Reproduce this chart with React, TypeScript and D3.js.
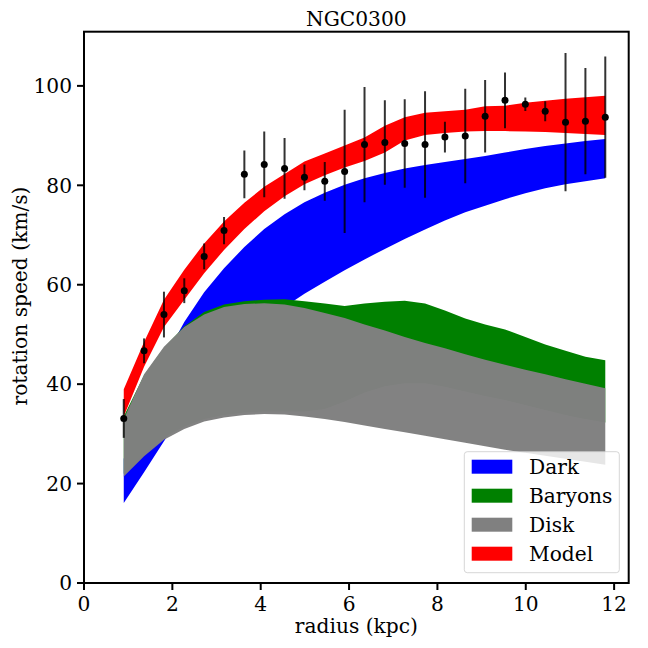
import React from 'react';
import * as d3 from 'd3';

const radius = [0.90, 1.36, 1.81, 2.27, 2.72, 3.17, 3.63, 4.08, 4.54, 4.99, 5.45, 5.90, 6.35, 6.81, 7.26, 7.72, 8.17, 8.63, 9.08, 9.53, 9.99, 10.44, 10.90, 11.35, 11.80];
const vObs = [33.1, 46.7, 54.0, 58.8, 65.7, 70.9, 82.2, 84.2, 83.4, 81.6, 80.8, 82.8, 88.2, 88.6, 88.4, 88.2, 89.7, 89.9, 93.9, 97.1, 96.3, 94.9, 92.7, 92.9, 93.7];
const vErr = [3.9, 2.5, 4.6, 2.5, 2.6, 2.75, 4.8, 6.6, 6.1, 2.6, 3.9, 12.4, 11.6, 8.5, 8.9, 10.7, 3.1, 9.5, 7.3, 5.6, 1.35, 2.0, 13.9, 10.7, 12.2];

const darkLo = [16.1, 22.3, 28.5, 34.5, 40.0, 45.0, 49.0, 52.5, 55.5, 58.2, 60.6, 62.9, 65.1, 67.2, 69.2, 71.1, 72.9, 74.6, 75.9, 77.2, 78.4, 79.4, 80.2, 80.8, 81.4];
const darkHi = [25.0, 36.0, 45.0, 52.5, 58.5, 63.3, 67.6, 71.2, 74.2, 76.6, 78.5, 80.1, 81.4, 82.5, 83.4, 84.1, 84.7, 85.3, 85.9, 86.6, 87.3, 87.9, 88.4, 88.9, 89.3];
const baryonsLo = [22.0, 26.0, 29.3, 31.5, 33.0, 33.8, 34.3, 34.5, 34.5, 34.5, 35.0, 36.5, 38.3, 39.6, 40.2, 40.2, 39.5, 38.5, 37.6, 36.8, 35.8, 34.8, 33.8, 33.0, 32.3];
const baryonsHi = [33.5, 41.8, 47.3, 51.6, 54.5, 56.0, 56.7, 57.0, 57.1, 56.7, 56.2, 55.7, 56.2, 56.6, 56.8, 56.2, 54.8, 53.2, 52.0, 51.0, 49.5, 48.0, 46.7, 45.5, 44.8];
const diskLo = [21.4, 25.5, 28.8, 31.0, 32.5, 33.3, 33.8, 34.0, 33.9, 33.5, 33.0, 32.4, 31.7, 31.0, 30.3, 29.6, 28.9, 28.2, 27.5, 26.8, 26.2, 25.6, 25.0, 24.4, 23.8];
const diskHi = [33.0, 42.0, 47.5, 51.5, 54.0, 55.5, 56.1, 56.3, 56.0, 55.3, 54.3, 53.3, 52.0, 50.8, 49.5, 48.3, 47.2, 46.0, 44.9, 43.9, 42.9, 42.0, 41.0, 40.1, 39.2];
const modelLo = [33.5, 43.5, 51.5, 57.0, 62.3, 67.0, 71.2, 74.8, 77.8, 80.2, 82.0, 83.6, 84.9, 86.6, 89.0, 90.1, 90.5, 90.8, 90.9, 90.9, 90.8, 90.7, 90.5, 90.3, 90.1];
const modelHi = [39.0, 48.5, 57.0, 63.0, 68.3, 72.7, 76.5, 79.7, 82.3, 84.8, 86.4, 88.0, 89.6, 92.0, 93.7, 94.6, 94.9, 95.2, 95.9, 96.0, 96.6, 97.0, 97.4, 97.7, 98.0];

const xTicks = [0, 2, 4, 6, 8, 10, 12];
const yTicks = [0, 20, 40, 60, 80, 100];
const seriesNames = ['Dark', 'Baryons', 'Disk', 'Model'];

const FONT = '"DejaVu Serif", serif';
const FS = 20.2;

export default function App() {
  const W = 648, H = 648;
  const L = 84, R = 628.7, T = 31.7, B = 583;
  const x = d3.scaleLinear().domain([0, 12.33]).range([L, R]);
  const y = d3.scaleLinear().domain([0, 110.9]).range([B, T]);

  const band = (lo: number[], hi: number[]) =>
    d3.area<number>()
      .x((d) => x(d))
      .y0((_, i) => y(lo[i]))
      .y1((_, i) => y(hi[i]))(radius) as string;

  const bands = [
    { name: 'Dark', lo: darkLo, hi: darkHi, color: '#0000ff', op: 1 },
    { name: 'Baryons', lo: baryonsLo, hi: baryonsHi, color: '#008000', op: 1 },
    { name: 'Disk', lo: diskLo, hi: diskHi, color: '#808080', op: 0.985 },
    { name: 'Model', lo: modelLo, hi: modelHi, color: '#ff0000', op: 1 },
  ];
  const colorOf: Record<string, string> = { Dark: '#0000ff', Baryons: '#008000', Disk: '#808080', Model: '#ff0000' };

  const legX = 464.3, legY = 451.7, legW = 155, legH = 121;
  const rowY0 = 466.7, rowDy = 29;

  return (
    <svg width={W} height={H} style={{ position: 'absolute', left: 0, top: 0, background: '#fff' }} fontFamily={FONT}>
      <rect x={0} y={0} width={W} height={H} fill="#fff" />
      <defs>
        <clipPath id="plotclip">
          <rect x={L} y={T} width={R - L} height={B - T} />
        </clipPath>
      </defs>
      <g clipPath="url(#plotclip)">
        {bands.map((b) => (
          <path key={b.name} d={band(b.lo, b.hi)} fill={b.color} fillOpacity={b.op} stroke="none" />
        ))}
        {radius.map((r, i) => (
          <line key={'e' + i} x1={x(r)} x2={x(r)} y1={y(vObs[i] - vErr[i])} y2={y(vObs[i] + vErr[i])}
            stroke="#000" strokeOpacity={0.8} strokeWidth={2} />
        ))}
        {radius.map((r, i) => (
          <circle key={'p' + i} cx={x(r)} cy={y(vObs[i])} r={3.5} fill="#000" />
        ))}
      </g>

      {/* legend */}
      <rect x={legX} y={legY} width={legW} height={legH} rx={3} ry={3} fill="#fff" fillOpacity={0.8} stroke="#cccccc" strokeOpacity={0.8} strokeWidth={1} />
      {seriesNames.map((n, i) => (
        <g key={n}>
          <rect x={471.7} y={rowY0 + i * rowDy - 7} width={40.6} height={14} fill={colorOf[n]} />
          <text x={529} y={rowY0 + i * rowDy + 7.2} fontSize={FS} fill="#000">{n}</text>
        </g>
      ))}

      {/* axes frame */}
      <rect x={L} y={T} width={R - L} height={B - T} fill="none" stroke="#000" strokeWidth={2} />

      {xTicks.map((t) => (
        <g key={'xt' + t}>
          <line x1={x(t)} x2={x(t)} y1={B} y2={B + 7} stroke="#000" strokeWidth={2} />
          <text x={x(t)} y={610.5} fontSize={FS} textAnchor="middle" fill="#000">{t}</text>
        </g>
      ))}
      {yTicks.map((t) => (
        <g key={'yt' + t}>
          <line x1={L - 7} x2={L} y1={y(t)} y2={y(t)} stroke="#000" strokeWidth={2} />
          <text x={72} y={y(t) + 7.3} fontSize={FS} textAnchor="end" fill="#000">{t}</text>
        </g>
      ))}

      <text x={(L + R) / 2} y={633} fontSize={FS} textAnchor="middle" fill="#000">radius (kpc)</text>
      <text transform={`translate(27, 296) rotate(-90)`} fontSize={FS} textAnchor="middle" fill="#000">rotation speed (km/s)</text>
      <text x={(L + R) / 2} y={26} fontSize={FS} textAnchor="middle" fill="#000">NGC0300</text>
    </svg>
  );
}
